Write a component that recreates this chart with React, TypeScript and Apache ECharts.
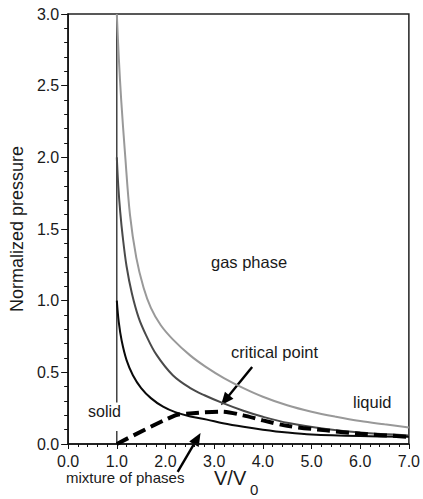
import React, { useEffect, useRef } from "react";
import * as echarts from "echarts";

const xTicks = ["0.0", "1.0", "2.0", "3.0", "4.0", "5.0", "6.0", "7.0"];

const upperCurve: [number, number][] = [
  [1.0, 3.0], [1.04, 2.7], [1.09, 2.4], [1.17, 2.02], [1.27, 1.6], [1.4, 1.3],
  [1.55, 1.09], [1.7, 0.95], [1.9, 0.83], [2.15, 0.73], [2.5, 0.62], [2.82, 0.54],
  [3.2, 0.46], [3.6, 0.39], [4.0, 0.33], [4.5, 0.27], [5.0, 0.225], [5.5, 0.19],
  [6.0, 0.16], [6.5, 0.137], [7.0, 0.115],
];

const middleCurve: [number, number][] = [
  [1.0, 2.0], [1.03, 1.8], [1.07, 1.62], [1.12, 1.45], [1.2, 1.24], [1.31, 1.05],
  [1.45, 0.88], [1.6, 0.76], [1.81, 0.625], [2.15, 0.48], [2.51, 0.39], [2.8, 0.34],
  [3.18, 0.285], [3.6, 0.232], [4.0, 0.19], [4.53, 0.146], [5.3, 0.105], [6.0, 0.08],
  [7.0, 0.06],
];

const lowerCurve: [number, number][] = [
  [1.0, 1.0], [1.04, 0.85], [1.1, 0.72], [1.2, 0.585], [1.33, 0.48], [1.5, 0.39],
  [1.7, 0.32], [1.95, 0.26], [2.2, 0.222], [2.51, 0.192], [2.85, 0.17], [3.18, 0.145],
  [3.6, 0.12], [4.0, 0.1], [4.5, 0.08], [5.0, 0.066], [6.0, 0.055], [7.0, 0.05],
];

const coexistence: [number, number][] = [
  [1.0, 0.0], [2.2, 0.2], [2.5, 0.213], [3.15, 0.226], [3.6, 0.2], [4.0, 0.165],
  [4.53, 0.125], [5.3, 0.095], [6.0, 0.072], [7.0, 0.05],
];

const wall: any[] = [[1, 0], [1, 0.09], [1, "-"], [1, 0.29], [1, 3]];

const criticalArrow = { from: [3.78, 0.537], to: [3.14, 0.27] };
const mixtureArrow = { from: [2.25, -0.195], to: [2.72, 0.077] };

const FONT = "Liberation Sans, Arial, Helvetica, sans-serif";

export default function App() {
  const ref = useRef<HTMLDivElement>(null);
  useEffect(() => {
    if (!ref.current) return;
    const chart = echarts.init(ref.current, undefined, { renderer: "svg" });
    const curve = (data: [number, number][], color: string) => ({
      type: "line", data, showSymbol: false, smooth: 0.35,
      lineStyle: { color, width: 2 },
    });
    const texts = [
      { type: "text", left: 211, top: 253, style: { text: "gas phase", font: `16.5px ${FONT}`, fill: "#1a1a1a" } },
      { type: "text", left: 231, top: 343, style: { text: "critical point", font: `16.5px ${FONT}`, fill: "#1a1a1a" } },
      { type: "text", left: 353, top: 393, style: { text: "liquid", font: `16.5px ${FONT}`, fill: "#1a1a1a" } },
      { type: "text", left: 88, top: 403, style: { text: "solid", font: `16px ${FONT}`, fill: "#1a1a1a" } },
      { type: "text", left: 66, top: 470, style: { text: "mixture of phases", font: `15px ${FONT}`, fill: "#1a1a1a" } },
      { type: "text", left: 214, top: 468, style: { text: "V/V", font: `20px ${FONT}`, fill: "#1a1a1a" } },
      { type: "text", left: 250, top: 482, style: { text: "0", font: `15px ${FONT}`, fill: "#1a1a1a" } },
    ];
    chart.setOption({
      animation: false,
      backgroundColor: "#fff",
      grid: {
        left: 65, top: 14, right: 10, bottom: 55,
        show: true, borderColor: "#222", borderWidth: 1.5, backgroundColor: "transparent",
      },
      xAxis: {
        type: "value", min: 0, max: 7, interval: 1,
        axisLine: { show: true, lineStyle: { color: "#111", width: 1.5 } },
        axisTick: { show: true, length: 5, lineStyle: { color: "#111", width: 1 } },
        minorTick: { show: true, splitNumber: 5, length: 3, lineStyle: { color: "#111" } },
        splitLine: { show: false },
        axisLabel: {
          color: "#1a1a1a", fontFamily: FONT, fontSize: 16, margin: 9,
          formatter: (v: number) => xTicks[Math.round(v)] ?? "",
        },
      },
      yAxis: {
        type: "value", min: 0, max: 3, interval: 0.5,
        name: "Normalized pressure", nameLocation: "middle", nameGap: 40,
        nameTextStyle: { color: "#1a1a1a", fontFamily: FONT, fontSize: 18 },
        axisLine: { show: true, lineStyle: { color: "#111", width: 1.5 } },
        axisTick: { show: true, length: 7, lineStyle: { color: "#111", width: 1 } },
        minorTick: { show: true, splitNumber: 5, length: 4, lineStyle: { color: "#111" } },
        splitLine: { show: false },
        axisLabel: {
          color: "#1a1a1a", fontFamily: FONT, fontSize: 16, margin: 9,
          formatter: (v: number) => v.toFixed(1),
        },
      },
      series: [
        {
          type: "line", data: wall, showSymbol: false, connectNulls: false,
          lineStyle: { color: "#111", width: 1.2 },
        },
        curve(upperCurve, "#999999"),
        curve(middleCurve, "#4a4a4a"),
        curve(lowerCurve, "#0a0a0a"),
        {
          type: "line", data: coexistence, showSymbol: false, smooth: 0.3,
          lineStyle: { color: "#000", width: 4, type: [13, 6] },
        },
      ],
      graphic: texts,
    });

    const arrowGraphic = (a: { from: number[]; to: number[] }) => {
      const p0 = chart.convertToPixel({ gridIndex: 0 }, a.from) as number[];
      const p1 = chart.convertToPixel({ gridIndex: 0 }, a.to) as number[];
      const dx = p1[0] - p0[0];
      const dy = p1[1] - p0[1];
      const len = Math.hypot(dx, dy);
      const ux = dx / len;
      const uy = dy / len;
      const headLen = 13;
      const headHalf = 5.5;
      const bx = p1[0] - ux * headLen;
      const by = p1[1] - uy * headLen;
      return [
        {
          type: "line",
          shape: { x1: p0[0], y1: p0[1], x2: bx + ux * 2, y2: by + uy * 2 },
          style: { stroke: "#000", lineWidth: 2.4 },
        },
        {
          type: "polygon",
          shape: {
            points: [
              [p1[0], p1[1]],
              [bx - uy * headHalf, by + ux * headHalf],
              [bx + uy * headHalf, by - ux * headHalf],
            ],
          },
          style: { fill: "#000" },
        },
      ];
    };
    chart.setOption({
      graphic: [...texts, ...arrowGraphic(criticalArrow), ...arrowGraphic(mixtureArrow)],
    });
    return () => chart.dispose();
  }, []);
  return <div ref={ref} style={{ position: "absolute", left: 0, top: 0, width: 423, height: 499 }} />;
}
